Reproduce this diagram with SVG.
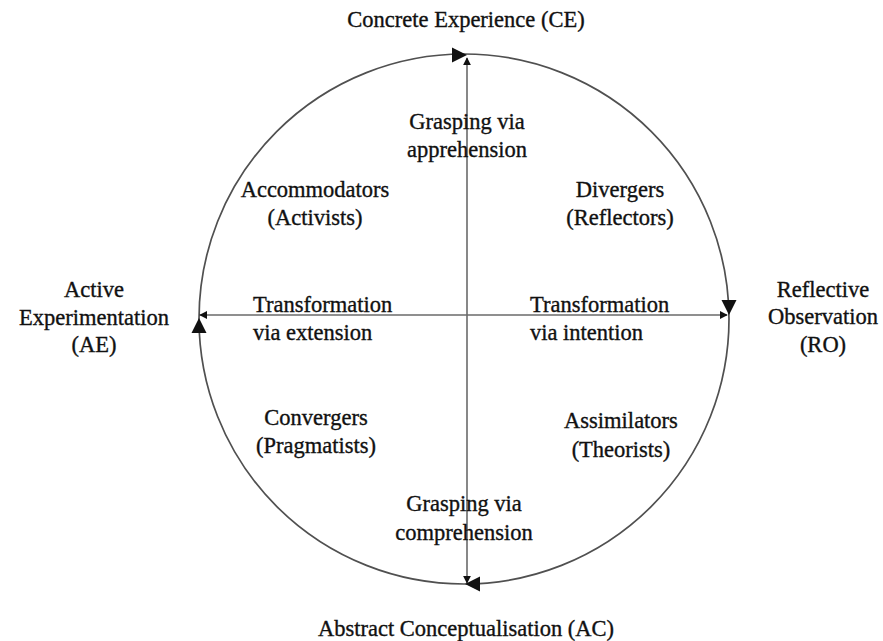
<svg xmlns="http://www.w3.org/2000/svg" width="883" height="641" viewBox="0 0 883 641">
<style>
text{font-family:"Liberation Serif","Times New Roman",serif;font-size:22.5px;fill:#111;stroke:#111;stroke-width:0.35;text-anchor:middle}
.l{text-anchor:start}
.axis{stroke:#6a6a6a;stroke-width:1.6;fill:none}
.ring{stroke:#505050;stroke-width:1.7;fill:none}
.ah{fill:#111}
</style>
<defs>
<path id="ah" class="ah" d="M0,0 L-15,-7.5 L-15,7.5 Z"/>
<marker id="sm" viewBox="0 0 10 10" refX="9" refY="5" markerWidth="8" markerHeight="8" markerUnits="userSpaceOnUse" orient="auto-start-reverse">
<path d="M0,0 L10,5 L0,10 Z" fill="#111"/>
</marker>
</defs>
<rect width="883" height="641" fill="#fff"/>
<g id="cycle">
<circle class="ring" cx="464" cy="319" r="265"/>
<use href="#ah" transform="translate(467,55)"/>
<use href="#ah" transform="translate(729,315) rotate(90)"/>
<use href="#ah" transform="translate(465,584) rotate(180)"/>
<use href="#ah" transform="translate(199,318) rotate(-90)"/>
</g>
<g id="connectors">
<line class="axis" x1="467" y1="583" x2="467" y2="58" marker-start="url(#sm)" marker-end="url(#sm)"/>
<line class="axis" x1="200" y1="315" x2="727" y2="315" marker-start="url(#sm)" marker-end="url(#sm)"/>
</g>
<g id="ce"><text x="466" y="27">Concrete Experience (CE)</text></g>
<g id="ac"><text x="466" y="636">Abstract Conceptualisation (AC)</text></g>
<g id="ae"><text x="94" y="297">Active</text><text x="94" y="325">Experimentation</text><text x="94" y="352">(AE)</text></g>
<g id="ro"><text x="823" y="297">Reflective</text><text x="823" y="324">Observation</text><text x="823" y="352">(RO)</text></g>
<g id="apprehension"><text x="467" y="129">Grasping via</text><text x="467" y="157">apprehension</text></g>
<g id="comprehension"><text x="464" y="511">Grasping via</text><text x="464" y="540">comprehension</text></g>
<g id="accommodators"><text x="315" y="197">Accommodators</text><text x="315" y="225">(Activists)</text></g>
<g id="divergers"><text x="620" y="197">Divergers</text><text x="620" y="225">(Reflectors)</text></g>
<g id="convergers"><text x="316" y="425">Convergers</text><text x="316" y="453">(Pragmatists)</text></g>
<g id="assimilators"><text x="621" y="428">Assimilators</text><text x="621" y="457">(Theorists)</text></g>
<g id="extension"><text class="l" x="253" y="312">Transformation</text><text class="l" x="253" y="340">via extension</text></g>
<g id="intention"><text class="l" x="530" y="312">Transformation</text><text class="l" x="530" y="340">via intention</text></g>
</svg>
